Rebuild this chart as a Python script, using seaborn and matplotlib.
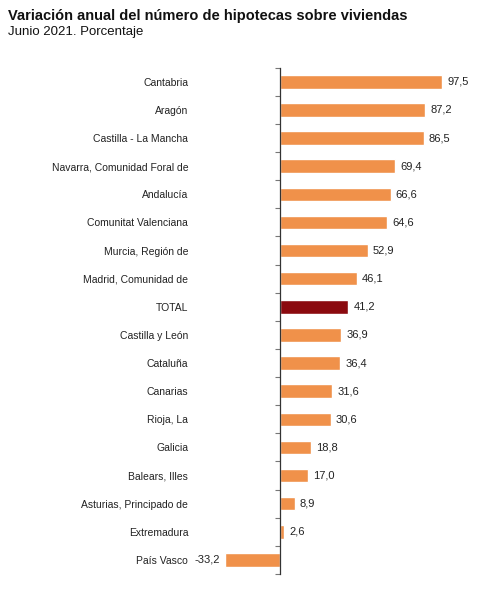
import matplotlib
matplotlib.use("Agg")
import matplotlib.pyplot as plt
import seaborn as sns
import pandas as pd

# Datos
comunidades = [
    "Cantabria", "Aragón", "Castilla - La Mancha", "Navarra, Comunidad Foral de",
    "Andalucía", "Comunitat Valenciana", "Murcia, Región de", "Madrid, Comunidad de",
    "TOTAL", "Castilla y León", "Cataluña", "Canarias", "Rioja, La", "Galicia",
    "Balears, Illes", "Asturias, Principado de", "Extremadura", "País Vasco",
]
variacion = [97.5, 87.2, 86.5, 69.4, 66.6, 64.6, 52.9, 46.1, 41.2, 36.9,
             36.4, 31.6, 30.6, 18.8, 17.0, 8.9, 2.6, -33.2]

naranja = "#F0914A"
granate = "#8B0A0F"

df = pd.DataFrame({"comunidad": comunidades, "variacion": variacion})
colores = [granate if c == "TOTAL" else naranja for c in comunidades]

sns.set_style("white")
plt.rcParams["font.family"] = ["Liberation Sans", "DejaVu Sans"]

fig = plt.figure(figsize=(5, 6.1), dpi=100)
ax = fig.add_axes([0.4, 0.059, 0.526, 0.83])

sns.barplot(data=df, x="variacion", y="comunidad", hue="comunidad",
            palette=colores, legend=False, width=0.48, ax=ax,
            saturation=1, orient="h")

ax.set_xlim(-48, 110)
ax.set_ylim(len(comunidades) - 0.5, -0.5)

# etiquetas de valor
for i, v in enumerate(variacion):
    txt = f"{v:.1f}".replace(".", ",")
    if v >= 0:
        ax.text(v + 3, i, txt, va="center", ha="left", fontsize=8, color="#222222")
    else:
        ax.text(v - 2.5, i, txt, va="center", ha="right", fontsize=8, color="#222222")

# ejes
for s in ["top", "right", "bottom"]:
    ax.spines[s].set_visible(False)
ax.spines["left"].set_position(("data", 0))
ax.spines["left"].set_color("#333333")
ax.spines["left"].set_linewidth(0.9)
ax.set_xticks([])
ax.set_xlabel("")
ax.set_ylabel("")
ax.tick_params(axis="y", which="major", left=True, length=0, pad=66,
               labelsize=7.5, labelcolor="#222222")
ax.set_yticks([i + 0.5 for i in range(-1, len(comunidades))], minor=True)
ax.tick_params(axis="y", which="minor", left=True, length=3.5, width=0.8,
               color="#777777", direction="out")

fig.text(0.016, 0.962, "Variación anual del número de hipotecas sobre viviendas",
         fontsize=10.5, fontweight="bold", color="#111111", va="bottom")
fig.text(0.016, 0.938, "Junio 2021. Porcentaje", fontsize=9.5, color="#111111",
         va="bottom")

fig.savefig("out.png", dpi=100)
